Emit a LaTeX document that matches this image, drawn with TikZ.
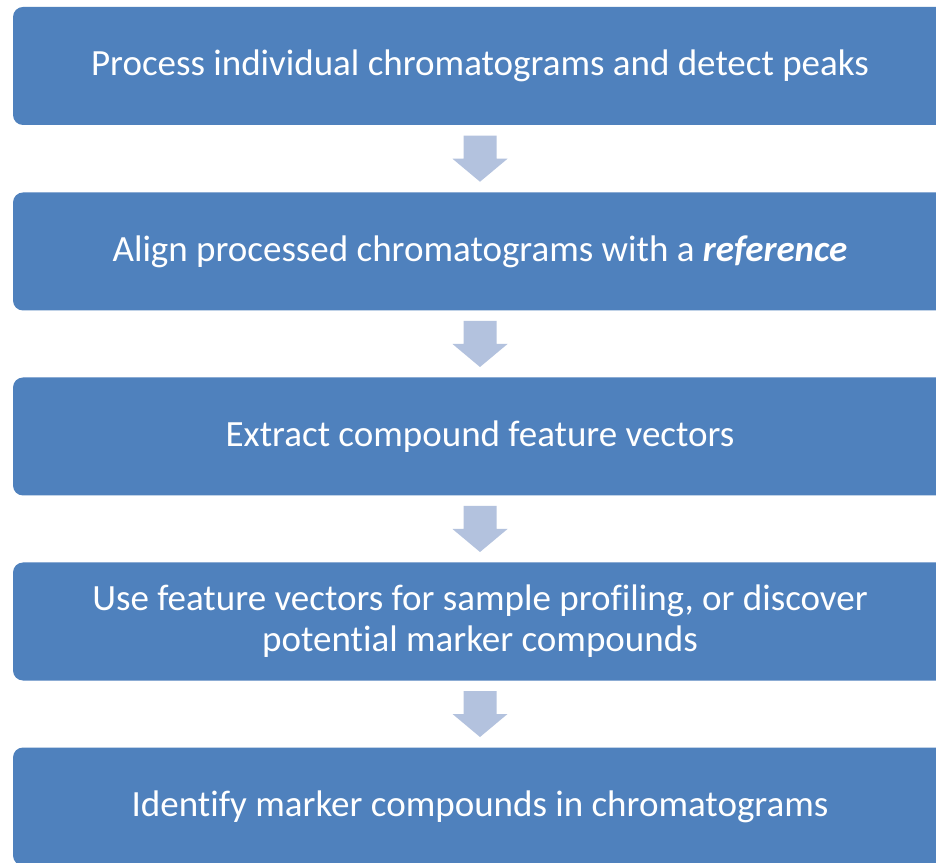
\documentclass[tikz,border=0pt]{standalone}
\usepackage{fontspec}
\setmainfont[Ligatures={NoCommon}]{Carlito}
\usetikzlibrary{calc}
\definecolor{stepblue}{HTML}{4F81BD}
\definecolor{arrowblue}{HTML}{B3C2DE}
\begin{document}
\begin{tikzpicture}[x=1pt, y=1pt,
    stepbox/.style={fill=stepblue, rectangle, rounded corners=10pt, minimum width=934pt, minimum height=118pt, text=white, align=center, font=\fontsize{37}{41}\selectfont},
    flowarrow/.style={fill=arrowblue}]

    \clip (0,0) rectangle (936,862);
    \fill[white] (0,0) rectangle (936,862);

    % Steps
    \node[stepbox] (s1) at (480,796) {Process individual chromatograms and detect peaks};
    \node[stepbox] (s2) at (480,610.5) {Align processed chromatograms with a \textbf{\textit{reference}}};
    \node[stepbox] (s3) at (480,425.5) {Extract compound feature vectors};
    \node[stepbox] (s4) at (480,240.5) {Use feature vectors for sample profiling, or discover\\potential marker compounds};
    \node[stepbox] (s5) at (480,55.5) {Identify marker compounds in chromatograms};

    % Arrows
    \foreach \a/\b in {s1/s2, s2/s3, s3/s4, s4/s5}
        \fill[flowarrow] ($(\a.south)!0.5!(\b.north)$) ++(-16.5,23) -- ++(33,0) -- ++(0,-23)
            -- ++(11,0) -- ++(-27.5,-23) -- ++(-27.5,23) -- ++(11,0) -- cycle;
\end{tikzpicture}
\end{document}
